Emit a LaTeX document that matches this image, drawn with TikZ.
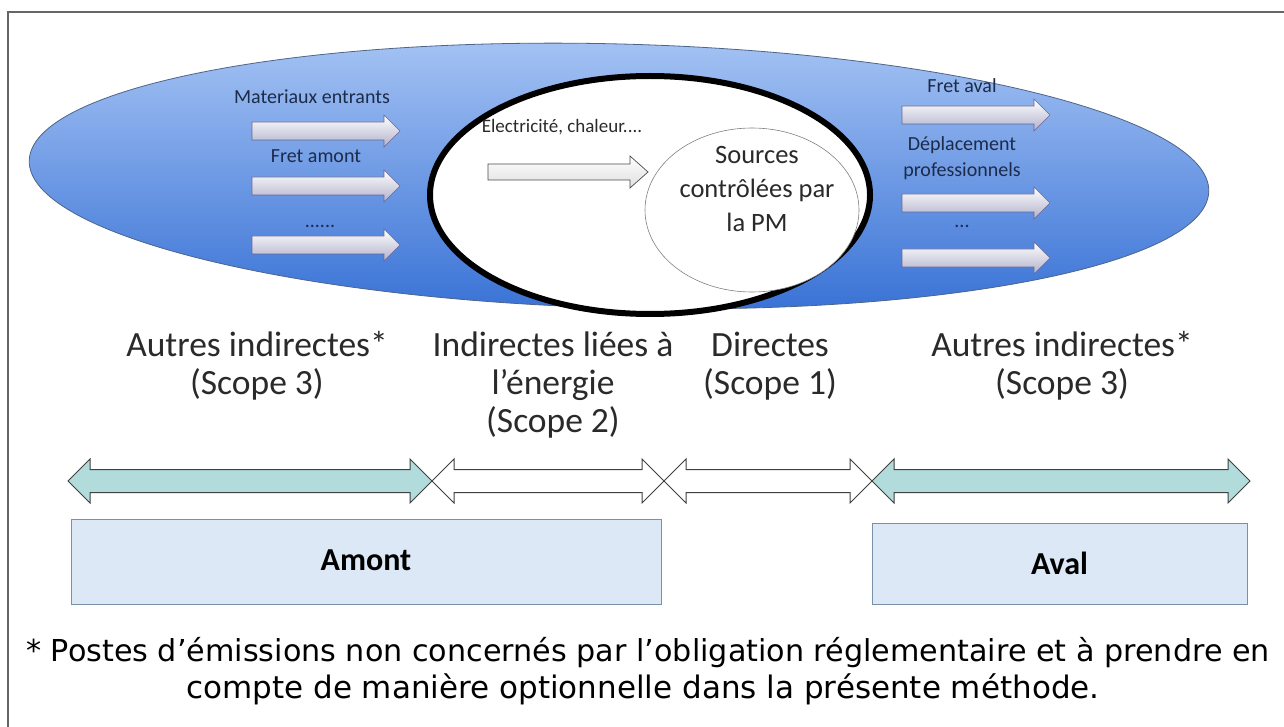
\documentclass[tikz,border=0pt]{standalone}
\usepackage{fontspec}
\setmainfont{Carlito}
\newfontfamily\notefont{DejaVu Sans}
\usetikzlibrary{shapes.geometric}
\definecolor{navytxt}{HTML}{1C2B4A}
\definecolor{txtdark}{HTML}{2A2A2A}
\definecolor{blueT}{HTML}{A6C4F4}
\definecolor{blueB}{HTML}{3A73D6}
\definecolor{edgeblue}{HTML}{4E6488}
\definecolor{tealfill}{HTML}{B2DCDC}
\definecolor{boxfill}{HTML}{DCE8F5}
\definecolor{boxedge}{HTML}{7A91AB}
\definecolor{framec}{HTML}{666666}
\newcommand\blockR[7]{%
  \draw[#7] (#1,{#3-#4}) -- ({#2-#6},{#3-#4}) -- ({#2-#6},{#3-#5}) -- (#2,#3)
    -- ({#2-#6},{#3+#5}) -- ({#2-#6},{#3+#4}) -- (#1,{#3+#4}) -- cycle;}
\newcommand\blockD[4]{%
  \draw[#4] (#1,#3) -- ({#1+22},{#3-22}) -- ({#1+22},{#3-11.5}) -- ({#2-22},{#3-11.5})
    -- ({#2-22},{#3-22}) -- (#2,#3) -- ({#2-22},{#3+22}) -- ({#2-22},{#3+11.5})
    -- ({#1+22},{#3+11.5}) -- ({#1+22},{#3+22}) -- cycle;}
\begin{document}
\begin{tikzpicture}[x=1pt,y=-1pt,
  small/.style={font=\fontsize{20}{26}\selectfont, text=navytxt, inner sep=0, align=center},
  big/.style={font=\fontsize{35.5}{38}\selectfont, text=txtdark, inner sep=0, align=center},
  whitearrow/.style={top color=white, bottom color=white!82!blue!60!gray, draw=gray!80!blue, line width=0.6pt},
  elecarrow/.style={top color=white, bottom color=gray!25, draw=black!70, line width=0.7pt},
  tealarrow/.style={fill=tealfill, draw=black!75, line width=1pt},
  plainarrow/.style={fill=white, draw=black!75, line width=1pt},
  notetext/.style={font=\notefont, text=black, inner sep=0},
  zonebox/.style={fill=boxfill, draw=boxedge, line width=1pt, inner sep=0,
    font=\bfseries\fontsize{32}{36}\selectfont, text=black}]
\useasboundingbox (0,0) rectangle (1284,727);
\clip (0,0) rectangle (1284,727);
\fill[white] (0,0) rectangle (1284,727);
\draw[framec, line width=1.5pt] (8,730) -- (8,12) -- (1290,12);

% big blue ellipse
\node[ellipse, draw=edgeblue, line width=0.8pt, top color=blueT, bottom color=blueB,
  minimum width=1180pt, minimum height=264pt, inner sep=0, rotate=-1.5] (outer) at (619,176) {};
% scope 1/2 ellipse
\node[ellipse, draw=black, line width=6pt, fill=white,
  minimum width=440pt, minimum height=238pt, inner sep=0] (core) at (650,195) {};
% sources ellipse
\node[ellipse, draw=gray, line width=0.6pt, fill=white,
  minimum width=214pt, minimum height=164pt, inner sep=0] (src) at (752,210) {};
\node[font=\fontsize{26.5}{34}\selectfont, text=txtdark, align=center, inner sep=0] (srct) at (757,189) {Sources\\contrôlées par\\la PM};

% left small arrows
\node[small] (mat) at (312,97) {Materiaux entrants};
\node[small] (fam) at (316,156) {Fret amont};
\node[small] (dl) at (320,226) {......};
\blockR{252}{400}{131}{9}{16}{16}{whitearrow}
\blockR{252}{400}{186}{9}{16}{16}{whitearrow}
\blockR{252}{400}{245}{9}{16}{16}{whitearrow}

% right small arrows
\node[small] (fav) at (962,86) {Fret aval};
\node[small] (dep) at (962,158) {Déplacement\\professionnels};
\node[small] (dr) at (962,226) {...};
\blockR{902}{1050}{115}{9}{16}{16}{whitearrow}
\blockR{902}{1050}{203}{9}{16}{16}{whitearrow}
\blockR{902}{1050}{258}{9}{16}{16}{whitearrow}

% electricity
\node[small, text=txtdark, font=\fontsize{19}{24}\selectfont] (elec) at (562,127) {Electricité, chaleur....};
\blockR{488}{648}{172}{8}{16}{18}{elecarrow}

% scope labels
\node[big] (a3l) at (257,366) {Autres indirectes*\\(Scope 3)};
\node[big] (s2) at (553,385) {Indirectes liées à\\l’énergie\\(Scope 2)};
\node[big] (s1) at (770,366) {Directes\\(Scope 1)};
\node[big] (a3r) at (1062,366) {Autres indirectes*\\(Scope 3)};

% double arrows
\blockD{68}{432}{481}{tealarrow}
\blockD{432}{664}{481}{plainarrow}
\blockD{664}{872}{481}{plainarrow}
\blockD{872}{1250}{481}{tealarrow}

% boxes
\node[zonebox, minimum width=590pt, minimum height=85pt] (amont) at (366,561.5) {\raisebox{3pt}{Amont}};
\node[zonebox, minimum width=375pt, minimum height=81pt] (aval) at (1059.5,563.5) {Aval};

% footnote
\node[notetext, anchor=west, font=\notefont\fontsize{30.2}{36}\selectfont] (note1) at (26,653)
  {* Postes d’émissions non concernés par l’obligation réglementaire et à prendre en};
\node[notetext, font=\notefont\fontsize{31}{36}\selectfont] (note2) at (643,689)
  {compte de manière optionnelle dans la présente méthode.};
\end{tikzpicture}
\end{document}
